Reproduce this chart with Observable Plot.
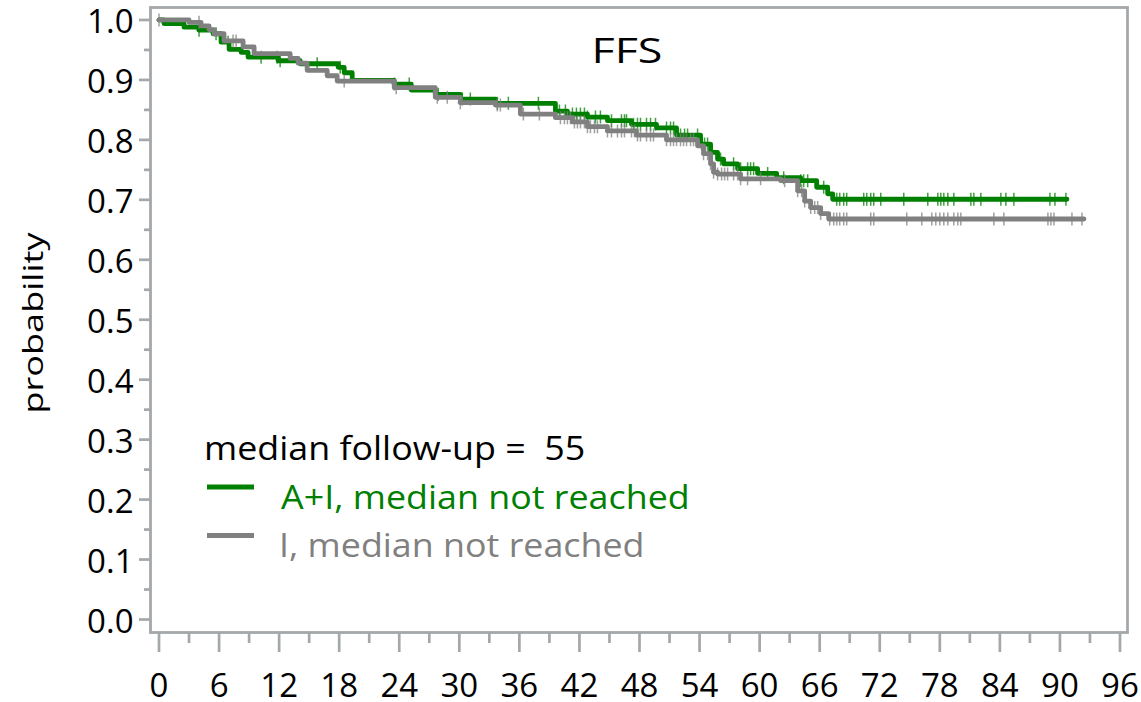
<!DOCTYPE html>
<html><head><meta charset="utf-8">
<script src="https://cdn.jsdelivr.net/npm/d3@7"></script>
<script src="https://cdn.jsdelivr.net/npm/@observablehq/plot@0.6"></script>
<style>
html,body{margin:0;padding:0;background:#fff;}
#chart{width:1141px;height:702px;}
</style>
</head><body><div id="chart"></div>
<script>
// ---------- data ----------
const title = "FFS";
const yLabel = "probability";
const medianFollowUp = 55;
const groups = ["A+I", "I"];
const legendLabels = ["A+I, median not reached", "I, median not reached"];
const groupColors = ["#008000", "#808080"];

const xTickValues = [0, 6, 12, 18, 24, 30, 36, 42, 48, 54, 60, 66, 72, 78, 84, 90, 96];
const xMinorTicks = [3, 9, 15, 21, 27, 33, 39, 45, 51, 57, 63, 69, 75, 81, 87, 93];
const yTickValues = [0, 0.1, 0.2, 0.3, 0.4, 0.5, 0.6, 0.7, 0.8, 0.9, 1.0];
const yMinorTicks = [0.05, 0.15, 0.25, 0.35, 0.45, 0.55, 0.65, 0.75, 0.85, 0.95];

// A+I : event times (months) and survival after each step
const aiTimes = [0, 0.5, 2.5, 4.0, 5.4, 6.2, 7.0, 8.2, 8.9, 11.9, 14.1, 17.9, 18.5, 19.3, 23.5, 25.2, 27.6, 30.1, 33.6,
  39.6, 40.8, 42.8, 44.8, 47.2, 49.7, 51.7, 54.1, 55.1, 55.8, 56.4, 57.8, 59.8, 61.7, 64.1, 65.7, 66.8, 67.3];
const aiSurv = [1.0, 0.994, 0.988, 0.983, 0.977, 0.963, 0.951, 0.946, 0.938, 0.932, 0.927, 0.921, 0.912, 0.899, 0.893, 0.883, 0.876, 0.868, 0.861,
  0.848, 0.843, 0.838, 0.832, 0.826, 0.820, 0.808, 0.793, 0.779, 0.768, 0.760, 0.752, 0.744, 0.737, 0.732, 0.721, 0.710, 0.701];
const aiLastFollowUp = 90.7;
const aiCensored = [4.0, 5.7, 6.9, 10.2, 11.8, 12.1, 15.8, 18.1, 23.5, 25.0, 27.9, 30.3, 31.1, 33.8, 34.9, 37.9,
  40.0, 40.6, 41.3, 41.7, 42.1, 42.5, 42.8, 43.6, 44.1, 45.2, 46.2, 46.5, 46.7, 47.4, 47.8, 48.1, 48.7, 49.1, 49.6,
  50.7, 51.1, 51.4, 52.1, 52.5, 52.8, 53.8, 54.2, 54.5, 54.8, 56.1, 57.4, 58.1, 58.8, 59.1, 59.4, 60.8, 62.4, 64.1,
  64.4, 64.8, 66.4, 67.7, 68.0, 68.4, 68.7, 70.4, 70.7, 71.1, 71.4, 72.1, 74.4, 76.8, 77.8, 78.1, 78.4, 78.8, 79.4,
  81.1, 81.4, 82.1, 84.1, 84.6, 85.4, 89.0, 89.5, 90.6];

// I : event times (months) and survival after each step
const iTimes = [0, 3.0, 4.2, 5.0, 5.5, 6.5, 8.4, 9.5, 13.1, 13.9, 14.8, 16.8, 17.8, 23.5, 27.6, 30.1, 33.6, 36.1, 39.6,
  41.3, 42.8, 44.8, 47.7, 50.7, 53.8, 54.4, 55.1, 55.4, 55.8, 58.1, 62.1, 63.8, 64.5, 65.1, 66.1, 66.9];
const iSurv = [1.0, 0.996, 0.990, 0.984, 0.977, 0.965, 0.955, 0.944, 0.936, 0.928, 0.916, 0.907, 0.898, 0.887, 0.871, 0.862, 0.858, 0.843, 0.837,
  0.830, 0.822, 0.815, 0.808, 0.800, 0.790, 0.777, 0.760, 0.746, 0.743, 0.735, 0.732, 0.715, 0.698, 0.687, 0.677, 0.668];
const iLastFollowUp = 92.4;
const iCensored = [0, 4.0, 7.4, 7.7, 18.5, 23.7, 27.8, 28.8, 30.1, 33.8, 34.1, 36.4, 38.0,
  40.1, 40.5, 40.8, 41.1, 41.5, 41.8, 42.1, 42.5, 42.8, 43.1, 43.5, 43.8, 44.8, 45.2, 45.8, 46.2, 46.5, 47.2, 47.5,
  47.8, 48.1, 48.7, 49.1, 49.4, 50.7, 51.1, 51.4, 51.7, 52.1, 52.4, 52.7, 53.1, 53.4, 54.4, 54.8, 55.1, 55.4, 55.8,
  56.2, 56.5, 56.8, 57.4, 57.8, 58.1, 58.8, 60.1, 62.5, 63.8, 64.2, 64.5, 65.1, 65.5, 65.8, 66.1, 67.0, 67.4, 67.7,
  68.0, 68.4, 68.7, 71.1, 71.4, 74.7, 76.2, 77.2, 77.6, 78.0, 78.4, 78.8, 79.4, 79.8, 80.1, 83.4, 84.4, 88.8, 89.1,
  89.4, 91.2, 92.2];

// ---------- build tables ----------
const FONT = "'Open Sans', 'Noto Sans', sans-serif";
const axisGray = "#a4a8ab";

function stepAt(times, surv, t) {
  let v = surv[0];
  for (let i = 0; i < times.length; i++) if (times[i] <= t) v = surv[i];
  return v;
}
function curve(group, times, surv, last) {
  const pts = times.map((t, i) => ({group, t, s: surv[i]}));
  pts.push({group, t: last, s: surv[surv.length - 1]});
  return pts;
}
function censors(group, times, surv, cens) {
  return cens.map(t => ({group, t, s: stepAt(times, surv, t)}));
}
const lineAI = curve(groups[0], aiTimes, aiSurv, aiLastFollowUp);
const lineI = curve(groups[1], iTimes, iSurv, iLastFollowUp);
const censorAI = censors(groups[0], aiTimes, aiSurv, aiCensored);
const censorI = censors(groups[1], iTimes, iSurv, iCensored);

const censorSymbol = {
  draw(ctx, size) {
    const r = Math.sqrt(size / Math.PI);
    ctx.moveTo(0, -r); ctx.lineTo(0, r);
    ctx.moveTo(-r * 0.4, 0); ctx.lineTo(r * 0.4, 0);
  }
};

function legendMark(index, scales, values, dims) {
  const g = d3.create("svg:g")
    .attr("font-family", FONT)
    .attr("font-size", 32)
    .attr("text-anchor", "start")
    .attr("xml:space", "preserve")
    .style("white-space", "pre");
  const x0 = dims.marginLeft + 57;
  const sx = 1.12;
  g.append("text").attr("transform", `translate(${x0 - 3},460) scale(${sx},1)`)
    .attr("fill", "black").text(`median follow-up =  ${medianFollowUp}`);
  legendLabels.forEach((lab, i) => {
    const yy = 487 + i * 48.5;
    g.append("line").attr("x1", x0).attr("x2", x0 + 47).attr("y1", yy).attr("y2", yy)
      .attr("stroke", groupColors[i]).attr("stroke-width", 5);
    g.append("text").attr("transform", `translate(${x0 + 74 - (i ? 2 : 0)},${yy + 21.5}) scale(${sx},1)`)
      .attr("fill", groupColors[i]).text(lab);
  });
  return g.node();
}

const chart = Plot.plot({
  width: 1141,
  height: 702,
  marginLeft: 150,
  marginRight: 14,
  marginTop: 7,
  marginBottom: 70,
  style: {fontFamily: FONT, background: "white", color: "black"},
  x: {domain: [-0.85, 96.75]},
  y: {domain: [-0.0217, 1.0208]},
  color: {domain: groups, range: groupColors},
  marks: [
    Plot.axisY({ticks: yMinorTicks, tickSize: 6, tickFormat: () => "", stroke: axisGray, strokeWidth: 2.7, label: null}),
    Plot.axisY({ticks: yTickValues, tickSize: 11, tickFormat: () => "", stroke: axisGray, strokeWidth: 2.7, label: null}),
    Plot.axisY({ticks: yTickValues, tickSize: 0, tickPadding: 17, dy: 2.6, tickFormat: d3.format(".1f"), fontSize: 33,
      fill: "black", label: null, ariaLabel: "ytext"}),
    Plot.axisX({ticks: xMinorTicks, tickSize: 11, tickFormat: () => "", stroke: axisGray, strokeWidth: 2.7, label: null}),
    Plot.axisX({ticks: xTickValues, tickSize: 20, tickFormat: () => "", stroke: axisGray, strokeWidth: 2.7, label: null}),
    Plot.axisX({ticks: xTickValues, tickSize: 0, tickPadding: 41.5, fontSize: 33, fill: "black", label: null, ariaLabel: "xtext"}),
    Plot.frame({stroke: axisGray, strokeWidth: 2.8}),
    Plot.line(lineAI, {x: "t", y: "s", stroke: groupColors[0], strokeWidth: 4.8, curve: "step-after"}),
    Plot.dot(censorAI, {x: "t", y: "s", symbol: censorSymbol, r: 6.5, stroke: groupColors[0], strokeWidth: 1.5, strokeOpacity: 0.75, fill: "none"}),
    Plot.line(lineI, {x: "t", y: "s", stroke: groupColors[1], strokeWidth: 4.8, curve: "step-after"}),
    Plot.dot(censorI, {x: "t", y: "s", symbol: censorSymbol, r: 6.5, stroke: groupColors[1], strokeWidth: 1.5, strokeOpacity: 0.75, fill: "none"}),
    Plot.text([title], {text: d => d, frameAnchor: "top", textAnchor: "middle", dx: -12, dy: 44.3, fontSize: 34.5, lineAnchor: "middle", fill: "black", ariaDescription: "title"}),
    Plot.text([yLabel], {text: d => d, frameAnchor: "left", textAnchor: "middle", lineAnchor: "middle", rotate: -90, dx: -116, dy: 3, fontSize: 28, fill: "black", ariaDescription: "ylabel"}),
    legendMark
  ]
});

// widen glyphs horizontally (reference uses a wide face)
function stretchNodes(nodes, s) {
  nodes.forEach(t => {
    const tr = t.getAttribute("transform");
    if (tr) t.setAttribute("transform", tr + ` scale(${s},1)`);
    else {
      const x = parseFloat(t.getAttribute("x")) || 0;
      t.setAttribute("transform", `translate(${x},0) scale(${s},1) translate(${-x},0)`);
    }
  });
}
function textsOf(key) {
  const out = new Set();
  chart.querySelectorAll(`[aria-label="${key}"], [aria-description="${key}"]`).forEach(el => {
    if (el.tagName.toLowerCase() === "text") out.add(el);
    else el.querySelectorAll("text").forEach(t => out.add(t));
  });
  return [...out];
}
stretchNodes(textsOf("ytext"), 1.18);
stretchNodes(textsOf("xtext"), 1.18);
stretchNodes(textsOf("title"), 1.3);
stretchNodes(textsOf("ylabel"), 1.29);

document.getElementById("chart").appendChild(chart);
</script>
</body></html>
